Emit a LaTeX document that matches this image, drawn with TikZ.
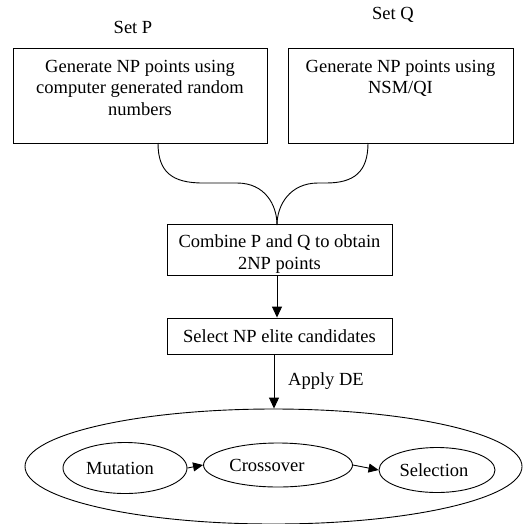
\documentclass[tikz,border=0pt]{standalone}
\usepackage{fontspec}
\setmainfont{Liberation Serif}
\usetikzlibrary{shapes.geometric,arrows.meta}
\begin{document}
\begin{tikzpicture}[x=1pt,y=-1pt,line width=0.9pt,
  font=\fontsize{18.5}{21.5}\selectfont,
  box/.style={draw,rectangle,inner sep=0pt},
  ov/.style={draw,ellipse,inner sep=0pt},
  arr/.style={-{Triangle[length=11pt,width=10pt]}},
  sarr/.style={-{Triangle[length=10pt,width=9pt]}}]
\useasboundingbox (0,0) rectangle (524,523);
% top labels
\node (setp) at (133,27) {Set P};
\node (setq) at (393,15) {Set Q};
% top boxes
\node[box,minimum width=254pt,minimum height=95pt] (boxp) at (140,95.5)
  {\begin{minipage}[t][95pt][t]{250pt}\centering\vspace{12pt}Generate NP points using\\computer generated random\\numbers\end{minipage}};
\node[box,minimum width=225pt,minimum height=95pt] (boxq) at (400.5,95.5)
  {\begin{minipage}[t][95pt][t]{223pt}\centering\vspace{12pt}Generate NP points using\\NSM/QI\end{minipage}};
% combine box
\node[box,minimum width=225pt,minimum height=51pt] (comb) at (279.5,249.5)
  {\begin{minipage}[t][51pt][t]{223pt}\centering\vspace{11pt}Combine P and Q to obtain\\2NP points\end{minipage}};
\coordinate (m) at (277,225);
\coordinate (pl) at (158,143);
\coordinate (ql) at (368,143);
\draw (pl) .. controls (158,172) and (172,183) .. (203,183) -- (237,183)
      .. controls (265,183) and (277,205) .. (m);
\draw (ql) .. controls (368,172) and (354,183) .. (326,183) -- (318,183)
      .. controls (290,183) and (277,205) .. (m);
% select box
\node[box,minimum width=225pt,minimum height=36pt] (sel) at (279.5,336) {Select NP elite candidates};
\draw[arr] (277,275) -- (sel.north -| m);
% big ellipse
\node[ov,minimum width=497pt,minimum height=115pt] (big) at (273.5,466.5) {};
\coordinate (a2) at (274,354);
\draw[arr] (a2) -- (a2 |- big.north);
\node (apply) at (326,381) {Apply DE};
% inner ellipses
\node[ov,minimum width=124pt,minimum height=51pt] (mut) at (125,468) {Mutation\hspace*{10pt}};
\node[ov,minimum width=149pt,minimum height=44pt] (cro) at (278,465) {Crossover\hspace*{22pt}};
\node[ov,minimum width=116pt,minimum height=45pt] (sel2) at (437,470) {Selection\hspace*{6pt}};
\draw[sarr] (mut.east) -- (cro.west);
\draw[sarr] (cro.east) -- (sel2.west);
\end{tikzpicture}
\end{document}
